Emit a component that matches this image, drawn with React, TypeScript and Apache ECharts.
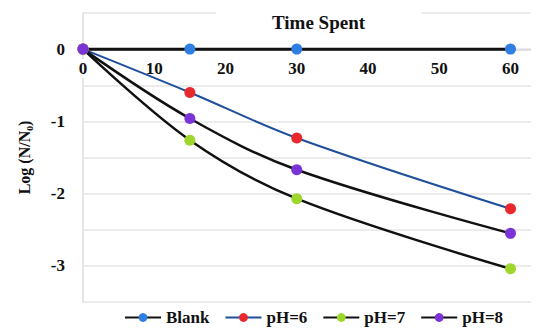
import React, { useEffect, useRef } from "react";
import * as echarts from "echarts";

const times = [0, 15, 30, 60];
const blank = [0, 0, 0, 0];
const ph6 = [0, -0.6, -1.23, -2.21];
const ph7 = [0, -1.26, -2.07, -3.04];
const ph8 = [0, -0.96, -1.67, -2.55];
const xTicks = [0, 10, 20, 30, 40, 50, 60];
const yTicks = [0, -1, -2, -3];

const FONT = "'Liberation Serif', 'Times New Roman', serif";

function pairs(vals: number[]) {
  return times.map((t, i) => [t, vals[i]]);
}

export default function App() {
  const ref = useRef<HTMLDivElement>(null);
  useEffect(() => {
    if (!ref.current) return;
    const chart = echarts.init(ref.current, undefined, { renderer: "svg" });
    const mk = (
      name: string,
      vals: number[],
      lineColor: string,
      markColor: string,
      width: number
    ) => ({
      name,
      type: "line",
      data: pairs(vals),
      smooth: 0.35,
      symbol: "circle",
      symbolSize: 11,
      lineStyle: { color: lineColor, width },
      itemStyle: { color: markColor, borderWidth: 0 },
      emphasis: { disabled: true },
    });
    chart.setOption({
      animation: false,
      backgroundColor: "#ffffff",
      textStyle: { fontFamily: FONT },
      title: {
        text: "Time Spent",
        left: 208,
        top: 1,
        backgroundColor: "#ffffff",
        padding: [4, 56, 4, 56],
        textStyle: {
          fontFamily: FONT,
          fontWeight: "bold",
          fontSize: 19,
          color: "#111",
        },
      },
      grid: {
        left: 75,
        right: 0,
        top: 5,
        bottom: 32,
        containLabel: false,
        outerBoundsMode: "none",
      },
      xAxis: {
        type: "value",
        min: 0,
        max: 64,
        interval: 10,
        position: "top",
        offset: -37,
        axisLine: { show: true, onZero: false, lineStyle: { color: "#d9d9d9", width: 1.5 } },
        axisTick: { show: false },
        splitLine: { show: false },
        axisLabel: {
          inside: true,
          margin: 9,
          fontFamily: FONT,
          fontWeight: "bold",
          fontSize: 17,
          color: "#111",
          backgroundColor: "#ffffff",
          padding: [1, 4, 1, 4],
          formatter: (v: number) => (xTicks.includes(v) ? String(v) : ""),
        },
      },
      yAxis: {
        type: "value",
        min: -3.5,
        max: 0.5,
        interval: 0.5,
        name: "Log (N/N\u2080)",
        nameLocation: "middle",
        nameGap: 51,
        nameTextStyle: {
          fontFamily: FONT,
          fontWeight: "bold",
          fontSize: 16,
          color: "#111",
        },
        axisLine: { show: true, lineStyle: { color: "#dcdcdc", width: 1.5 } },
        axisTick: { show: false },
        splitLine: { show: true, lineStyle: { color: "#e6e6e6", width: 1.5 } },
        axisLabel: {
          margin: 18,
          fontFamily: FONT,
          fontWeight: "bold",
          fontSize: 17,
          color: "#111",
          formatter: (v: number) => (yTicks.includes(v) ? String(v) : ""),
        },
      },
      legend: {
        bottom: 3,
        left: 111,
        itemWidth: 36,
        itemHeight: 11,
        itemGap: 15,
        textStyle: {
          fontFamily: FONT,
          fontWeight: "bold",
          fontSize: 17,
          color: "#111",
        },
        data: ["Blank", "pH=6", "pH=7", "pH=8"],
      },
      series: [
        mk("Blank", blank, "#111111", "#2f7fe3", 3),
        mk("pH=6", ph6, "#1f4f9c", "#e8282c", 2),
        mk("pH=7", ph7, "#111111", "#9fd62c", 2.5),
        mk("pH=8", ph8, "#111111", "#7a33d6", 2.5),
      ],
    });
    return () => chart.dispose();
  }, []);
  return <div ref={ref} style={{ width: 531, height: 326 }} />;
}
